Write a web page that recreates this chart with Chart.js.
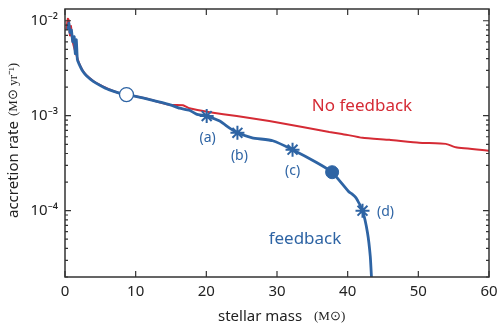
<!DOCTYPE html>
<html lang="en">
<head>
<meta charset="UTF-8">
<title>Accretion rate vs stellar mass</title>
<script src="https://cdn.jsdelivr.net/npm/chart.js"></script>
<style>
  html, body { margin: 0; padding: 0; background: #fff; }
  .wrap { width: 498px; height: 325px; }
</style>
</head>
<body>
<div class="wrap"><canvas id="myChart" width="498" height="325"></canvas></div>
<script>
// data
const noFbMass = [0.2, 0.4, 0.55, 0.7, 0.85, 1.0, 1.3, 1.6, 2.0, 2.5, 3.0, 4.0, 5.0, 6.2, 7.0, 7.8, 8.7, 10, 12, 14.8, 16.7, 17.6, 20.5, 24.3, 28.9, 33.6, 37.4, 39.2, 42.1, 45.9, 50.1, 53.9, 55.3, 60];
const noFbRate = [8.0e-3, 1.05e-2, 1.0e-2, 7.0e-3, 8.8e-3, 6.5e-3, 5.2e-3, 4.4e-3, 3.55e-3, 3.0e-3, 2.68e-3, 2.32e-3, 2.1e-3, 1.9e-3, 1.8e-3, 1.72e-3, 1.67e-3, 1.6e-3, 1.48e-3, 1.3e-3, 1.29e-3, 1.2e-3, 1.09e-3, 9.9e-4, 8.77e-4, 7.6e-4, 6.75e-4, 6.43e-4, 5.85e-4, 5.57e-4, 5.19e-4, 5.05e-4, 4.65e-4, 4.28e-4];

const fbMass = [0.4, 0.55, 0.7, 0.9, 1.1, 1.3, 1.45, 1.6, 1.75, 2.0, 2.5, 3.0, 4.0, 5.0, 6.2, 7.8, 8.7, 10, 12, 14.8, 16.2, 17.6, 18.6, 20.05, 21.9, 23.3, 24.4, 26.5, 29.4, 32.2, 35.6, 37.8, 40.2, 40.6, 41.2, 42.1, 42.8, 43.2, 43.4];
const fbRate = [8.0e-3, 9.5e-3, 7.5e-3, 8.0e-3, 6.0e-3, 6.8e-3, 4.5e-3, 6.3e-3, 3.9e-3, 3.5e-3, 2.95e-3, 2.65e-3, 2.3e-3, 2.08e-3, 1.88e-3, 1.72e-3, 1.67e-3, 1.6e-3, 1.48e-3, 1.31e-3, 1.2e-3, 1.14e-3, 1.04e-3, 9.9e-4, 8.77e-4, 7.4e-4, 6.6e-4, 5.85e-4, 5.45e-4, 4.39e-4, 3.22e-4, 2.54e-4, 1.57e-4, 1.5e-4, 1.36e-4, 1.0e-4, 5.9e-5, 3.3e-5, 1.8e-5];

// stages (a)-(d) and the two circles
const starMass = [20.05, 24.4, 32.2, 42.1];
const starRate = [9.9e-4, 6.6e-4, 4.39e-4, 1.0e-4];
const starLabels = ['(a)', '(b)', '(c)', '(d)'];
const openMass = [8.7];
const openRate = [1.67e-3];
const filledMass = [37.8];
const filledRate = [2.54e-4];

const xTicks = [0, 10, 20, 30, 40, 50, 60];
const yTicks = [1e-2, 1e-3, 1e-4];
const yTickLabels = ['10\u207B\u00B2', '10\u207B\u00B3', '10\u207B\u2074'];

const RED = '#d52b35';
const BLUE = '#2e64a4';
const AXIS = '#333';
const FONT = '"Noto Sans", sans-serif';

function pts(xs, ys) {
    return xs.map((x, i) => ({ x: x, y: ys[i] }));
}

// frame, inward ticks, annotations and axis titles
const decorate = {
    id: 'decorate',
    afterDraw(chart) {
        const ctx = chart.ctx;
        const a = chart.chartArea;
        const xs = chart.scales.x;
        const ys = chart.scales.y;
        ctx.save();
        ctx.strokeStyle = AXIS;
        ctx.lineWidth = 1.5;
        ctx.strokeRect(a.left, a.top, a.right - a.left, a.bottom - a.top);

        ctx.lineWidth = 1.2;
        ctx.beginPath();
        xTicks.forEach(v => {
            const px = xs.getPixelForValue(v);
            ctx.moveTo(px, a.bottom); ctx.lineTo(px, a.bottom - 6);
            ctx.moveTo(px, a.top); ctx.lineTo(px, a.top + 6);
        });
        for (let e = -5; e <= -2; e++) {
            for (let m = 1; m <= 9; m++) {
                const v = m * Math.pow(10, e);
                if (v < ys.min || v > ys.max) continue;
                const py = ys.getPixelForValue(v);
                const len = m === 1 ? 6 : 3;
                ctx.moveTo(a.left, py); ctx.lineTo(a.left + len, py);
                ctx.moveTo(a.right, py); ctx.lineTo(a.right - len, py);
            }
        }
        ctx.stroke();

        // stage labels
        ctx.fillStyle = BLUE;
        ctx.font = '14px ' + FONT;
        ctx.textAlign = 'center';
        ctx.textBaseline = 'middle';
        const off = [[1, 22], [2, 23], [0, 21], [23, 1]];
        starLabels.forEach((t, i) => {
            const px = xs.getPixelForValue(starMass[i]);
            const py = ys.getPixelForValue(starRate[i]);
            ctx.fillText(t, px + off[i][0], py + off[i][1]);
        });

        ctx.font = '17px ' + FONT;
        ctx.fillStyle = RED;
        ctx.fillText('No feedback', 362, 106);
        ctx.fillStyle = BLUE;
        ctx.fillText('feedback', 305, 239);

        // x title
        ctx.fillStyle = '#222';
        ctx.textAlign = 'left';
        ctx.font = '15px ' + FONT;
        ctx.fillText('stellar mass', 218, 317);
        ctx.font = '13px "Liberation Serif", serif';
        ctx.fillText('(M\u2299)', 314, 317);

        // y title
        ctx.translate(14, 218);
        ctx.rotate(-Math.PI / 2);
        ctx.font = '15px ' + FONT;
        ctx.fillText('accretion rate', 0, 0);
        ctx.font = '13px "Liberation Serif", serif';
        ctx.fillText('(M\u2299 yr\u207B\u00B9)', 102, 0);
        ctx.restore();
    }
};

new Chart(document.getElementById('myChart'), {
    type: 'line',
    data: {
        datasets: [
            { data: pts(openMass, openRate), showLine: false, pointRadius: 7, pointStyle: 'circle',
              backgroundColor: '#fff', borderColor: BLUE, borderWidth: 1.3 },
            { data: pts(filledMass, filledRate), showLine: false, pointRadius: 6.5, pointStyle: 'circle',
              backgroundColor: BLUE, borderColor: BLUE, borderWidth: 1 },
            { data: pts(starMass, starRate), showLine: false, pointRadius: 7, pointStyle: 'star',
              backgroundColor: BLUE, borderColor: BLUE, borderWidth: 2 },
            { data: pts(fbMass, fbRate), borderColor: BLUE, borderWidth: 2.8, pointRadius: 0, tension: 0.15 },
            { data: pts(noFbMass, noFbRate), borderColor: RED, borderWidth: 2, pointRadius: 0, tension: 0.15 }
        ]
    },
    options: {
        responsive: false,
        animation: false,
        layout: { padding: { top: 6, right: 8, left: 0, bottom: 0 } },
        plugins: { legend: { display: false }, tooltip: { enabled: false } },
        scales: {
            x: {
                type: 'linear', min: 0, max: 60,
                afterFit: s => { s.height = 48; s.paddingLeft = 0; s.paddingRight = 0; },
                afterBuildTicks: s => { s.ticks = xTicks.map(v => ({ value: v })); },
                grid: { display: false, drawTicks: false },
                border: { display: false },
                ticks: { color: '#222', font: { family: FONT, size: 15 }, padding: 6, maxRotation: 0 }
            },
            y: {
                type: 'logarithmic', min: 2e-5, max: 1.33e-2,
                afterFit: s => { s.width = 65; s.paddingTop = 0; s.paddingBottom = 0; },
                afterBuildTicks: s => { s.ticks = yTicks.map(v => ({ value: v })); },
                grid: { display: false, drawTicks: false },
                border: { display: false },
                ticks: {
                    color: '#222', font: { family: FONT, size: 15 }, padding: 7, autoSkip: false,
                    callback: (v) => yTickLabels[yTicks.indexOf(v)] || ''
                }
            }
        }
    },
    plugins: [decorate]
});
</script>
</body>
</html>
